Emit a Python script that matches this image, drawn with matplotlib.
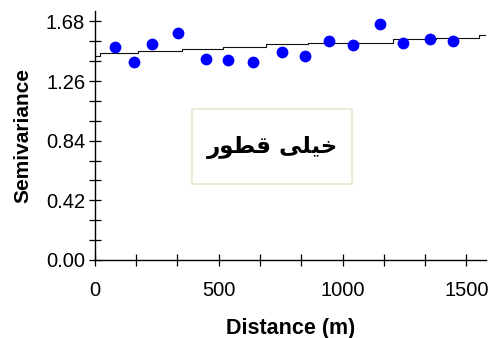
import matplotlib
matplotlib.use("Agg")
import matplotlib.pyplot as plt
from matplotlib.patches import Rectangle
from matplotlib.ticker import MultipleLocator

# Experimental semivariogram points
lag_dist = [81, 157, 230, 335, 448, 536, 637, 754, 847, 944, 1044, 1153, 1246, 1355, 1448]
semivar = [1.497, 1.392, 1.518, 1.596, 1.413, 1.406, 1.392, 1.462, 1.434, 1.539,
           1.511, 1.659, 1.525, 1.553, 1.539]

# Fitted model (drawn as a stepped line)
model_x = [0, 20, 173, 351, 516, 690, 859, 1202, 1379, 1552, 1575]
model_y = [1.44, 1.455, 1.47, 1.488, 1.499, 1.518, 1.53, 1.553, 1.565, 1.583, 1.583]

yticks = [0.00, 0.42, 0.84, 1.26, 1.68]
xticks = [0, 500, 1000, 1500]

# Persian label "خیلی قطور" written with presentation forms in visual order
label_fa = "\uFEAD\uFEEE\uFEC4\uFED7 \uFBFD\uFEE0\uFBFF\uFEA7"

plt.rcParams["font.family"] = ["Liberation Sans", "DejaVu Sans"]

fig = plt.figure(figsize=(4.92, 3.38), dpi=100)
ax = fig.add_axes([0.193, 0.231, 0.795, 0.737])

ax.plot(model_x, model_y, color="#111111", lw=0.8, drawstyle="steps-post")
ax.scatter(lag_dist, semivar, s=72, color="#0000ff", zorder=3, linewidths=0)

ax.set_xlim(0, 1580)
ax.set_ylim(0, 1.755)
ax.set_xticks(xticks)
ax.set_yticks(yticks)
ax.set_yticklabels(["%.2f" % v for v in yticks])
ax.xaxis.set_minor_locator(MultipleLocator(500 / 3))
ax.yaxis.set_minor_locator(MultipleLocator(0.14))

for side in ["top", "right"]:
    ax.spines[side].set_visible(False)
for side in ["left", "bottom"]:
    ax.spines[side].set_linewidth(1.0)

ax.tick_params(which="both", direction="inout", length=8, width=0.9, labelsize=14.5)
ax.tick_params(axis="x", pad=11)
ax.tick_params(axis="y", pad=3)

ax.set_xlabel("Distance (m)", fontsize=15.5, fontweight="bold", labelpad=13)
ax.set_ylabel("Semivariance", fontsize=15, fontweight="bold", labelpad=10)

ax.add_patch(Rectangle((0.248, 0.305), 0.409, 0.301, transform=ax.transAxes,
                       facecolor="white", edgecolor="#ece9d8", lw=1.5, zorder=2))
ax.text(0.455, 0.45, label_fa, transform=ax.transAxes, ha="center", va="center",
        fontsize=16.5, fontweight="bold", family=["DejaVu Sans"], zorder=4)

fig.savefig("out.png", dpi=100)
